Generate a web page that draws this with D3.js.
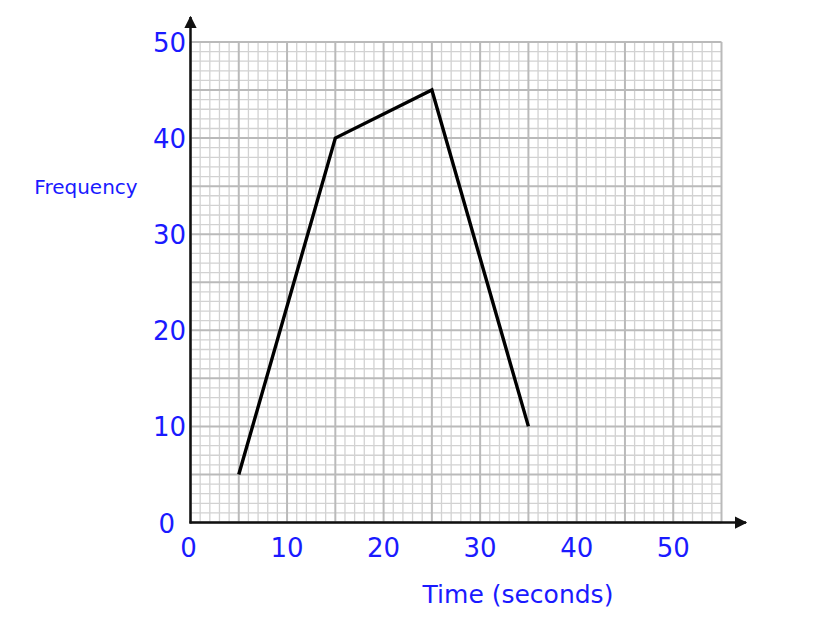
<!DOCTYPE html>
<html><head><meta charset="utf-8">
<script src="https://cdn.jsdelivr.net/npm/d3@7"></script>
<style>body{margin:0;background:#fff;} text{font-family:"DejaVu Sans",sans-serif;fill:#1a1aff;}</style>
</head><body>
<svg id="c" width="818" height="633"></svg>
<script>
const times = [5, 15, 25, 35];
const frequencies = [5, 40, 45, 10];
const xTicks = [0, 10, 20, 30, 40, 50];
const yTicks = [0, 10, 20, 30, 40, 50];
const xTitle = "Time (seconds)";
const yTitle = "Frequency";

const svg = d3.select("#c");
const x = d3.scaleLinear().domain([0, 55]).range([190.5, 721.5]);
const y = d3.scaleLinear().domain([0, 50]).range([522.5, 42]);

const grid = svg.append("g");
d3.range(0, 56).filter(v => v % 5).forEach(v => grid.append("line").attr("x1", x(v)).attr("x2", x(v)).attr("y1", y(0)).attr("y2", y(50)).attr("stroke", "#d2d2d2").attr("stroke-width", 1.3));
d3.range(0, 51).filter(v => v % 5).forEach(v => grid.append("line").attr("y1", y(v)).attr("y2", y(v)).attr("x1", x(0)).attr("x2", x(55)).attr("stroke", "#d2d2d2").attr("stroke-width", 1.3));
d3.range(0, 56, 5).forEach(v => grid.append("line").attr("x1", x(v)).attr("x2", x(v)).attr("y1", y(0)).attr("y2", y(50)).attr("stroke", "#bababa").attr("stroke-width", 2));
d3.range(0, 51, 5).forEach(v => grid.append("line").attr("y1", y(v)).attr("y2", y(v)).attr("x1", x(0)).attr("x2", x(55)).attr("stroke", "#bababa").attr("stroke-width", 2));

svg.append("defs").append("marker").attr("id", "arr").attr("viewBox", "0 0 10 10")
  .attr("refX", 9).attr("refY", 5).attr("markerWidth", 5).attr("markerHeight", 5).attr("orient", "auto")
  .append("path").attr("d", "M0,0L10,5L0,10Z").attr("fill", "#111");
svg.append("line").attr("x1", x(0)).attr("x2", x(0)).attr("y1", y(0) + 1).attr("y2", 17)
  .attr("stroke", "#111").attr("stroke-width", 2.5).attr("marker-end", "url(#arr)");
svg.append("line").attr("x1", x(0) - 1).attr("x2", 746).attr("y1", y(0)).attr("y2", y(0))
  .attr("stroke", "#111").attr("stroke-width", 2.5).attr("marker-end", "url(#arr)");

svg.append("g").selectAll("text").data(xTicks).join("text")
  .attr("x", d => d === 0 ? x(d) - 2 : x(d)).attr("y", 557).attr("text-anchor", "middle")
  .attr("font-size", 26).text(d => d);
svg.append("g").selectAll("text").data(yTicks).join("text")
  .attr("x", d => d === 0 ? 175 : 186).attr("y", d => y(d) + 10).attr("text-anchor", "end")
  .attr("font-size", 26).text(d => d);

svg.append("text").attr("x", 518).attr("y", 603).attr("text-anchor", "middle").attr("font-size", 25).text(xTitle);
svg.append("text").attr("x", 86).attr("y", 194).attr("text-anchor", "middle").attr("font-size", 20).text(yTitle);

const pts = times.map((t, i) => [t, frequencies[i]]);
svg.append("path").datum(pts)
  .attr("d", d3.line().x(d => x(d[0])).y(d => y(d[1])))
  .attr("fill", "none").attr("stroke", "#000").attr("stroke-width", 3.4).attr("stroke-linejoin", "miter");
</script>
</body></html>
